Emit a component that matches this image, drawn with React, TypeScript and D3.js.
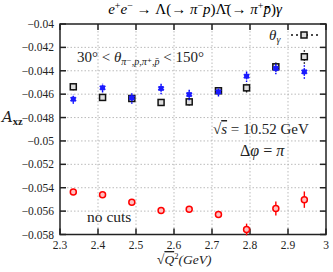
import * as d3 from 'd3'

const qValues = [2.335, 2.412, 2.489, 2.566, 2.64, 2.717, 2.791, 2.868, 2.943]
const thetaGamma = [-0.04537, -0.04628, -0.04637, -0.04671, -0.04666, -0.04571, -0.04546, -0.04366, -0.0428]
const thetaGammaErr = [0.0003, 0.0003, 0.0003, 0.0003, 0.0003, 0.0003, 0.0004, 0.0004, 0.0006]
const allCuts = [-0.04643, -0.04546, -0.04631, -0.04551, -0.04603, -0.0458, -0.04446, -0.0438, -0.04409]
const allCutsErr = [0.0004, 0.0004, 0.0005, 0.0005, 0.0005, 0.0004, 0.0005, 0.0005, 0.0006]
const noCuts = [-0.05437, -0.0546, -0.05525, -0.05594, -0.05585, -0.05628, -0.05757, -0.05577, -0.05502]
const noCutsErr = [0.0002, 0.0002, 0.0002, 0.0002, 0.0002, 0.0003, 0.0005, 0.0006, 0.0007]
const xTicks = [2.3, 2.4, 2.5, 2.6, 2.7, 2.8, 2.9, 3.0]
const yTicks = [-0.04, -0.042, -0.044, -0.046, -0.048, -0.05, -0.052, -0.054, -0.056, -0.058]

const FONT = '"Liberation Serif", "DejaVu Serif", serif'

export default function App() {
  const width = 333
  const height = 272
  const margin = { top: 24, right: 7, bottom: 37.5, left: 60 }
  const W = width - margin.left - margin.right
  const H = height - margin.top - margin.bottom

  const x = d3.scaleLinear().domain([2.3, 3.0]).range([0, W])
  const y = d3.scaleLinear().domain([-0.058, -0.04]).range([H, 0])
  const fmtX = (v: number) => (v === 3 ? '3' : d3.format('.1f')(v))
  const fmtY = (v: number) => d3.format('.3f')(v).replace(/0+$/, '').replace('-', '\u2212')
  const asterisk = d3.symbol().type(d3.symbolAsterisk).size(32)()

  return (
    <svg width={width} height={height} style={{ position: 'absolute', left: 0, top: 0 }} fontFamily={FONT}>
      <text x={195} y={14} fontSize={15} textAnchor="middle">
        <tspan fontStyle="italic">e</tspan>
        <tspan dy={-5} fontSize={10}>+</tspan>
        <tspan dy={5} fontStyle="italic">e</tspan>
        <tspan dy={-5} fontSize={10}>{'\u2212'}</tspan>
        <tspan dy={5}>{' \u2192 \u039B(\u2192 '}</tspan>
        <tspan fontStyle="italic">{'\u03C0'}</tspan>
        <tspan dy={-5} fontSize={10}>{'\u2212'}</tspan>
        <tspan dy={5} fontStyle="italic">p</tspan>
        <tspan>{')\u039B\u0304(\u2192 '}</tspan>
        <tspan fontStyle="italic">{'\u03C0'}</tspan>
        <tspan dy={-5} fontSize={10}>+</tspan>
        <tspan dy={5} fontStyle="italic">{'p\u0304'}</tspan>
        <tspan>)</tspan>
        <tspan fontStyle="italic">{'\u03B3'}</tspan>
      </text>

      <g transform={`translate(${margin.left},${margin.top})`}>
        {/* grid */}
        {xTicks.slice(1, -1).map(t => (
          <line key={'gx' + t} x1={x(t)} x2={x(t)} y1={0} y2={H} stroke="#aaa" strokeWidth={0.8} strokeDasharray="1.5 2" />
        ))}
        {yTicks.slice(1, -1).map(t => (
          <line key={'gy' + t} x1={0} x2={W} y1={y(t)} y2={y(t)} stroke="#aaa" strokeWidth={0.8} strokeDasharray="1.5 2" />
        ))}

        {/* ticks */}
        {xTicks.map(t => (
          <g key={'tx' + t}>
            <line x1={x(t)} x2={x(t)} y1={H} y2={H - 6} stroke="#222" strokeWidth={1.5} />
            <line x1={x(t)} x2={x(t)} y1={0} y2={6} stroke="#222" strokeWidth={1.5} />
            <text x={x(t)} y={H + 14} fontSize={11.5} textAnchor="middle" fill="#222">{fmtX(t)}</text>
          </g>
        ))}
        {yTicks.map(t => (
          <g key={'ty' + t}>
            <line x1={0} x2={6} y1={y(t)} y2={y(t)} stroke="#222" strokeWidth={1.5} />
            <line x1={W} x2={W - 6} y1={y(t)} y2={y(t)} stroke="#222" strokeWidth={1.5} />
            <text x={-6} y={y(t) + 4} fontSize={11.5} textAnchor="end" fill="#222">{fmtY(t)}</text>
          </g>
        ))}
        <rect x={0} y={0} width={W} height={H} fill="none" stroke="#222" strokeWidth={1.5} />

        {/* no cuts */}
        {qValues.map((q, i) => (
          <g key={'r' + i}>
            <line x1={x(q)} x2={x(q)} y1={y(noCuts[i] - noCutsErr[i])} y2={y(noCuts[i] + noCutsErr[i])} stroke="#f00" strokeWidth={1.4} />
            <circle cx={x(q)} cy={y(noCuts[i])} r={3} fill="#ffc0c0" stroke="#f00" strokeWidth={1.5} />
          </g>
        ))}

        {/* theta gamma cut */}
        {qValues.map((q, i) => (
          <g key={'k' + i}>
            <line x1={x(q)} x2={x(q)} y1={y(thetaGamma[i] - thetaGammaErr[i])} y2={y(thetaGamma[i] + thetaGammaErr[i])} stroke="#111" strokeWidth={1.4} strokeDasharray="1.5 1.5" />
            <rect x={x(q) - 3} y={y(thetaGamma[i]) - 3} width={6} height={6} fill="#ddd" stroke="#111" strokeWidth={1.5} />
          </g>
        ))}

        {/* all cuts */}
        {qValues.map((q, i) => (
          <g key={'b' + i}>
            <line x1={x(q)} x2={x(q)} y1={y(allCuts[i] - allCutsErr[i])} y2={y(allCuts[i] + allCutsErr[i])} stroke="#00f" strokeWidth={1.4} strokeDasharray="1.5 1.5" />
            <path d={asterisk ?? ''} transform={`translate(${x(q)},${y(allCuts[i])})`} fill="none" stroke="#1a1aff" strokeWidth={1.3} />
            <rect x={x(q) - 2.4} y={y(allCuts[i]) - 2.4} width={4.8} height={4.8} fill="#1a1aff" />
          </g>
        ))}

        {/* legend */}
        <text x={209} y={16} fontSize={15} fontStyle="italic" fill="#222">
          {'\u03B8'}
          <tspan dy={3} fontSize={10}>{'\u03B3'}</tspan>
        </text>
        <line x1={231} x2={258} y1={11} y2={11} stroke="#111" strokeWidth={1.4} strokeDasharray="2 3" />
        <rect x={241} y={8} width={6} height={6} fill="#ddd" stroke="#111" strokeWidth={1.5} />

        {/* annotations */}
        <text x={17} y={38} fontSize={15} fill="#222">
          {'30\u00B0 < '}
          <tspan fontStyle="italic">{'\u03B8'}</tspan>
          <tspan dy={3} fontSize={10} fontStyle="italic">{'\u03C0\u207B,p,\u03C0\u207A,p\u0304'}</tspan>
          <tspan dy={-3}>{' < 150\u00B0'}</tspan>
        </text>
        <text x={153} y={110} fontSize={15} fill="#222">
          {'\u221A'}
          <tspan fontStyle="italic" textDecoration="overline">s</tspan>
          {' = 10.52 GeV'}
        </text>
        <text x={180} y={132} fontSize={16} fill="#222">
          {'\u0394'}
          <tspan fontStyle="italic">{'\u03C6'}</tspan>
          {' = '}
          <tspan fontStyle="italic">{'\u03C0'}</tspan>
        </text>
        <text x={27} y={198} fontSize={15.5} fill="#222">no cuts</text>
      </g>

      {/* axis labels */}
      <text x={2} y={122} fontSize={15} fill="#222">
        <tspan fontStyle="italic" fontFamily='"DejaVu Serif", serif'>A</tspan>
        <tspan dy={3} fontSize={10.5} fontWeight="bold">xz</tspan>
      </text>
      <text x={157} y={264} fontSize={13.5} fill="#222">
        {'\u221A'}
        <tspan fontStyle="italic" textDecoration="overline">Q</tspan>
        <tspan dy={-5} fontSize={8.5}>2</tspan>
        <tspan dy={5} fontStyle="italic">(GeV)</tspan>
      </text>
    </svg>
  )
}
